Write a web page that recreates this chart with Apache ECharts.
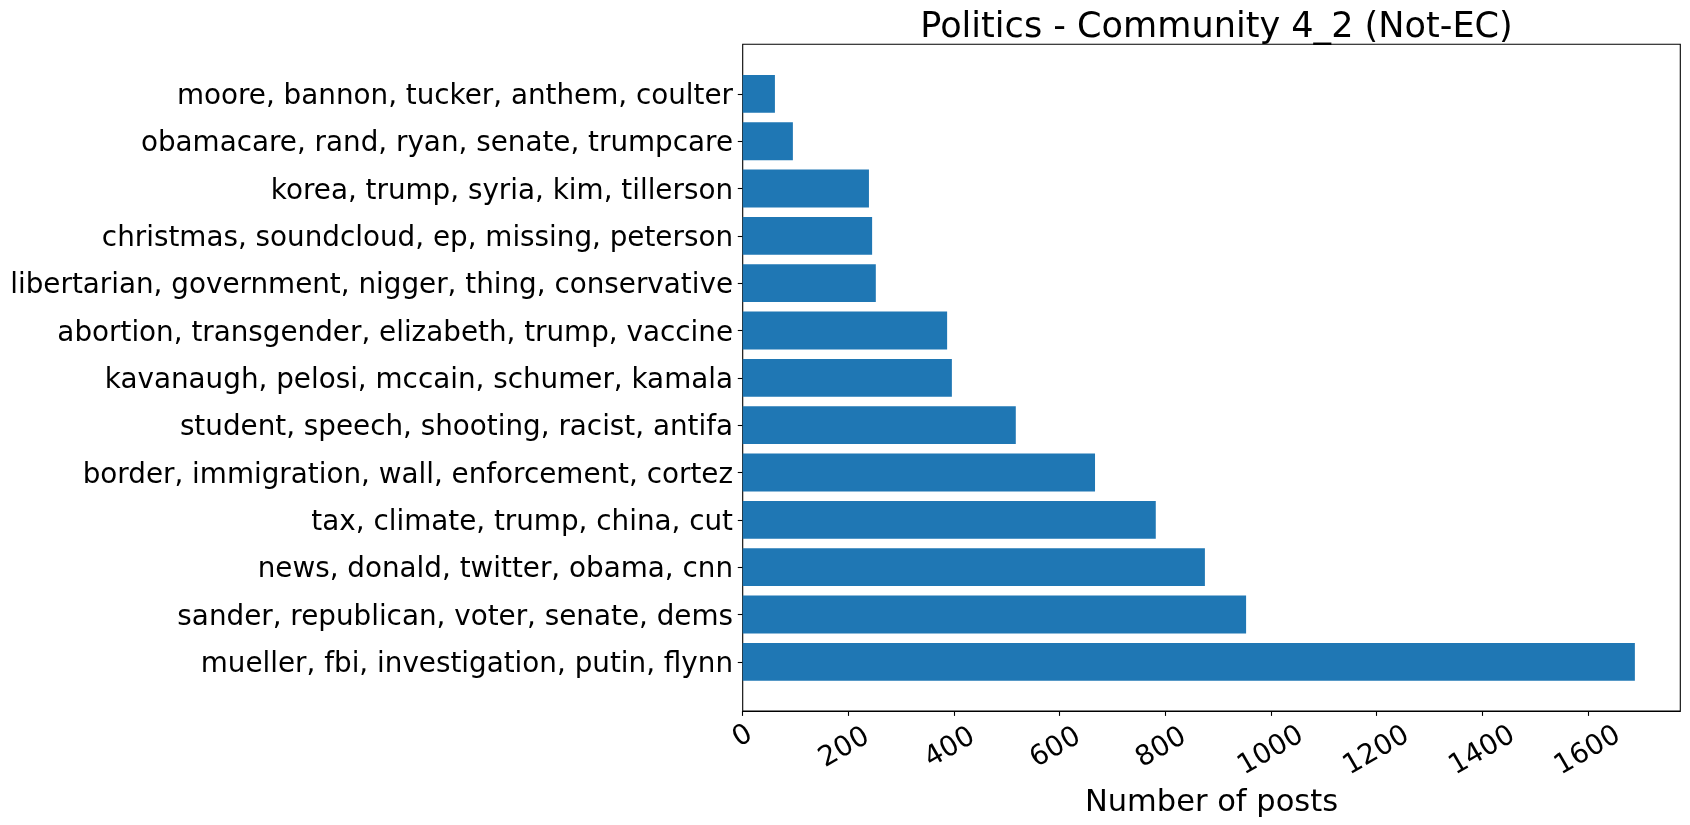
<!DOCTYPE html>
<html>
<head>
<meta charset="utf-8">
<script src="https://cdn.jsdelivr.net/npm/echarts@6/dist/echarts.min.js"></script>
<style>
html,body{margin:0;padding:0;background:#fff;overflow:hidden;}
#chart{width:1690px;height:825px;}
</style>
</head>
<body>
<div id="chart"></div>
<script>
const titleText = 'Politics - Community 4_2 (Not-EC)';
const xAxisLabel = 'Number of posts';
const categories = [
  'moore, bannon, tucker, anthem, coulter',
  'obamacare, rand, ryan, senate, trumpcare',
  'korea, trump, syria, kim, tillerson',
  'christmas, soundcloud, ep, missing, peterson',
  'libertarian, government, nigger, thing, conservative',
  'abortion, transgender, elizabeth, trump, vaccine',
  'kavanaugh, pelosi, mccain, schumer, kamala',
  'student, speech, shooting, racist, antifa',
  'border, immigration, wall, enforcement, cortez',
  'tax, climate, trump, china, cut',
  'news, donald, twitter, obama, cnn',
  'sander, republican, voter, senate, dems',
  'mueller, fbi, investigation, putin, flynn'
];
const postCounts = [61, 95, 239, 245, 252, 387, 396, 517, 667, 782, 875, 953, 1689];
const xTicks = [0, 200, 400, 600, 800, 1000, 1200, 1400, 1600];
const xMax = 1775;

const FONT = 'DejaVu Sans';
const chart = echarts.init(document.getElementById('chart'), null, {renderer: 'canvas'});

const frame = {left: 742.7, right: 9.7, top: 44.3, bottom: 114};
const bars = {left: 742.7, right: 9.7, top: 70.2, bottom: 139.5};

chart.setOption({
  animation: false,
  backgroundColor: '#fff',
  title: {
    text: titleText,
    left: (frame.left + 1690 - frame.right) / 2,
    textAlign: 'center',
    top: 5.5,
    textStyle: {fontFamily: FONT, fontSize: 35.1, fontWeight: 'normal', color: '#000'}
  },
  grid: [
    {left: frame.left, right: frame.right, top: frame.top, bottom: frame.bottom,
     show: true, borderColor: '#000', borderWidth: 1.1, backgroundColor: 'transparent', containLabel: false},
    {left: bars.left, right: bars.right, top: bars.top, bottom: bars.bottom, containLabel: false}
  ],
  xAxis: [
    {
      type: 'value', gridIndex: 0, min: 0, max: xMax, interval: 200,
      splitLine: {show: false},
      axisLine: {show: true, lineStyle: {color: '#000', width: 1.1}},
      axisTick: {show: true, length: 4.9, lineStyle: {color: '#000', width: 1.1}, customValues: xTicks},
      axisLabel: {
        show: true, rotate: 30, align: 'center', verticalAlign: 'middle', margin: 40,
        customValues: xTicks,
        fontFamily: FONT, fontSize: 27.8, color: '#000',
        formatter: function (v) {
          const s = String(v);
          if (s.length === 1) return '{z|' + s + '}';
          if (s.length === 3) return '{t|' + s + '}';
          return s;
        },
        rich: {
          z: {fontFamily: FONT, fontSize: 27.8, color: '#000', padding: [0, 0, 25, 14.5]},
          t: {fontFamily: FONT, fontSize: 27.8, color: '#000', padding: [0, 3.9, 9.2, 0]}
        }
      },
      name: xAxisLabel, nameLocation: 'middle', nameGap: 69,
      nameTextStyle: {fontFamily: FONT, fontSize: 30.5, color: '#000'}
    },
    {
      type: 'value', gridIndex: 1, min: 0, max: xMax, show: false
    }
  ],
  yAxis: [
    {type: 'value', gridIndex: 0, show: false, min: 0, max: 1},
    {
      type: 'category', gridIndex: 1, data: categories, inverse: true,
      axisLine: {show: false},
      axisTick: {show: true, alignWithLabel: true, length: 4.9, lineStyle: {color: '#000', width: 1.1}},
      axisLabel: {
        margin: 9.7, fontFamily: FONT, fontSize: 27.8, color: '#000',
        formatter: function (v) { return '{c|' + v + '}'; },
        rich: {c: {fontFamily: FONT, fontSize: 27.8, color: '#000', padding: [6, 0, 0, 0]}}
      },
      splitLine: {show: false}
    }
  ],
  series: [
    {
      type: 'bar', xAxisIndex: 1, yAxisIndex: 1, data: postCounts,
      barCategoryGap: '20%',
      itemStyle: {color: '#1f77b4'}
    }
  ]
});
</script>
</body>
</html>
